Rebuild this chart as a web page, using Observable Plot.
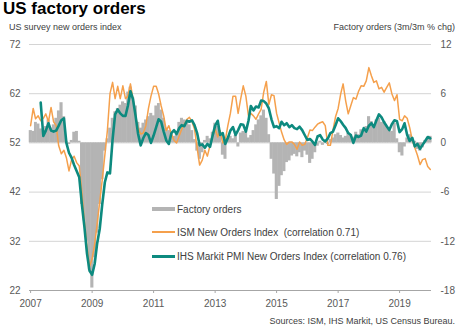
<!DOCTYPE html>
<html><head><meta charset="utf-8">
<script src="https://cdn.jsdelivr.net/npm/d3@7"></script>
<script src="https://cdn.jsdelivr.net/npm/@observablehq/plot@0.6"></script>
<style>
body{margin:0;background:#fff;font-family:"Liberation Sans",Arial,sans-serif;}
#wrap{position:relative;width:466px;height:334px;overflow:hidden;background:#fff}
#chart{position:absolute;left:0;top:22px}
.t{position:absolute;white-space:nowrap}
.leg{position:absolute;left:152px;height:12px;display:flex;align-items:center;font-size:10px;color:#404040;white-space:nowrap}
.sw{display:inline-block;width:23px;margin-right:2px}
</style></head>
<body>
<div id="wrap">
  <div id="chart"></div>
  <div class="t" style="left:3px;top:-1px;font-size:17px;line-height:20px;font-weight:bold;color:#000">US factory orders</div>
  <div class="t" style="left:9px;top:22px;font-size:9px;line-height:11px;color:#404040">US survey new orders index</div>
  <div class="t" style="right:11px;top:22px;font-size:9px;line-height:11px;color:#404040">Factory orders (3m/3m % chg)</div>
  <div id="legend"></div>
  <div class="t" style="right:11px;top:316px;font-size:9px;line-height:11px;color:#404040">Sources: ISM, IHS Markit, US Census Bureau.</div>
</div>
<script>
// Monthly data, Jan 2007 .. Jan 2020
const ism = [
55.5, 59, 56.9, 57.5, 56.5, 57, 57.9, 56.3, 59.2, 56.3,
55.5, 51.4, 49.8, 50.5, 49, 46.3, 48.5, 49.3, 48, 47.3,
42, 36, 31, 26.8, 28.5, 31.5, 35.5, 40, 44.5, 49.5,
54.5, 62, 64.3, 61, 63.5, 61, 63.6, 61, 61.5, 64,
61, 57.5, 55, 53.8, 54, 55.5, 59, 61.5, 63.5, 63.5,
62, 59.5, 57.5, 54.5, 55.5, 53.8, 52.5, 52, 53.4, 54.8,
55.8, 56.8, 57.2, 56.3, 54.8, 51, 47.5, 48.5, 50.5, 49.3,
51.5, 53.2, 54.8, 53.2, 54.5, 52, 52.5, 55.5, 58, 61.5,
61.5, 58, 61, 63.6, 61.5, 57.5, 58, 57.5, 56.8, 57.9,
58.8, 62.3, 64.5, 59.8, 61.8, 61.6, 58, 56, 54.2, 52.6,
51.7, 52.2, 52.2, 51.7, 50.7, 52.2, 51.5, 51.7, 53, 54.6,
54.5, 55.2, 55.8, 56.1, 56.3, 55.5, 51.5, 51.5, 54.6, 57.3,
59, 62, 64, 60.5, 57.9, 59.6, 61.2, 60.9, 62.5, 63.6,
63.5, 64.6, 67.3, 65.6, 64.3, 64.6, 63, 63.3, 62.3, 63.3,
64.2, 62, 60.6, 61.8, 56.8, 56.5, 57.5, 57, 55.1, 52.5,
51, 49.5, 47.6, 48.6, 48.8, 47.2, 46.6
];
const pmi = [
null, null, null, null, 60.2, 53.4, 54.5, 56, 54.5, 54.3,
54.5, 55.5, 56.6, 57, 52, 50, 49, 47.5, 46.3, 45,
39.5, 35, 29.5, 26, 25.2, 27.5, 31.5, 34.5, 39.5, 44,
46, 45.8, 52.7, 57.8, 58.8, 58, 57.5, 57.5, 59.5, 62.5,
60.9, 57.5, 53.8, 51.5, 53, 54, 53.6, 52, 53.5, 55.2,
56.8, 56.3, 54.3, 52.5, 51.8, 54, 54.6, 53.8, 55, 55.6,
55.4, 56.5, 56.3, 56.6, 55.6, 54, 51.5, 51.7, 51, 51.8,
51.2, 53.4, 55.5, 56.5, 53.6, 54, 51.8, 53, 54.5, 55.2,
53.6, 54.6, 55.8, 55.7, 54.3, 56.5, 59.5, 58.6, 59.4, 59.2,
60.6, 60.5, 60, 59, 56.8, 55.2, 55.4, 55, 56.3, 55.6,
56, 55.2, 55.6, 55, 54.8, 55.3, 54.6, 53.6, 52.6, 52.8,
52.3, 51.6, 53.3, 53.6, 52.7, 52.3, 52.9, 54, 54.3, 55.6,
57, 56.4, 55.7, 55, 54, 53.6, 52, 53.5, 53.2, 53.5,
55, 54.3, 55.5, 56, 55.2, 56.6, 57.8, 57.2, 56.2, 55.4,
54.6, 55.8, 56.6, 56.4, 54.2, 54.8, 56, 53.6, 52.4, 53,
51.3, 51.8, 50.8, 51.6, 52.4, 53.2, 52.9
];
const factoryOrders = [
1.5, 1.4, 2.5, 2.3, 1.7, 1.5, 2.0, 2.8, 1.8, 2.2,
3.0, 3.9, 4.9, 3.2, 0.2, -0.2, 0.3, 1.3, 1.4, 0.2,
-7.5, -9.5, -12, -15.5, -17.7, -14, -11, -7.5, -4.5, -1,
0.5, 1.8, 3.0, 3.8, 4.2, 4.6, 5.0, 4.8, 6.2, 6.8,
5.5, 4.5, 2.5, 1.8, 2.4, 2.8, 3.2, 3.6, 3.3, 4.5,
4.8, 4.0, 3.0, 1.8, 1.5, 1.0, 0.8, 1.2, 2.5, 3.0,
2.8, 2.6, 2.2, 1.5, 0.4, -1.0, -2.0, -1.2, 0.3, 0.8,
0.5, 1.3, 2.4, 2.0, 1.0, -1.5, -2.0, 0.6, 0.8, 0.5,
0.9, -0.5, 1.2, 1.4, 1.3, 0.6, 0.9, 1.5, 2.2, 2.8,
3.3, 4.0, 3.0, 1.0, -2.0, -3.8, -6.9, -5.3, -4.0, -3.5,
-2.4, -2.2, -1.6, -1.4, -1.7, -1.2, -1.8, -1.0, -1.5, -2.5,
-2.0, -1.2, -0.4, 0.2, -0.3, 0.3, -0.2, 0.4, 0.6, 1.0,
1.2, 0.9, 0.6, 0.8, 1.2, 1.0, 0.7, 1.3, 1.0, 1.6,
1.4, 2.0, 3.2, 2.6, 2.2, 2.8, 3.0, 2.5, 2.6, 2.0,
1.8, 1.4, 2.4, 0.5, -1.2, -1.6, -0.5, 0.6, 1.0, 0.4,
0.2, -0.8, -1.0, -0.6, 0.3, 0.6, 0.8
];
const leftTicks = [22, 32, 42, 52, 62, 72];
const rightTicks = [-18, -12, -6, 0, 6, 12];
const yearTicks = [2007, 2009, 2011, 2013, 2015, 2017, 2019];
const legendLabels = ["Factory orders", "ISM New Orders Index  (correlation 0.71)", "IHS Markit PMI New Orders Index (correlation 0.76)"];

const colors = {bars: "#b4b4b4", ism: "#f5a04c", pmi: "#0d8a7f"};
// right axis: 0% aligned with 52, 30 pct-pts span = 50 index pts
const toLeft = r => 52 + r / 0.6;
const toRight = l => Math.round((l - 52) * 0.6);

const rows = ism.map((v, i) => ({
  date: new Date(Date.UTC(2007, i, 1)),
  x1: new Date(Date.UTC(2007, i - 1, 16)),
  x2: new Date(Date.UTC(2007, i, 22)),
  ism: v, pmi: pmi[i], fo: factoryOrders[i]
}));

const chart = Plot.plot({
  width: 466, height: 290,
  marginTop: 22, marginBottom: 22, marginLeft: 29, marginRight: 35,
  style: {fontFamily: '"Liberation Sans", Arial, sans-serif', fontSize: "10px", color: "#595959", background: "transparent"},
  x: {type: "utc", domain: [new Date(Date.UTC(2006, 11, 19)), new Date(Date.UTC(2020, 0, 15))]},
  y: {domain: [22, 72]},
  marks: [
    Plot.ruleY(leftTicks.filter(d => d !== 22), {stroke: "#d4d4d4", strokeWidth: 1}),
    Plot.rect(rows, {x1: "x1", x2: "x2", y1: 52, y2: d => toLeft(d.fo), fill: colors.bars}),
    Plot.line(rows, {x: "date", y: "ism", stroke: colors.ism, strokeWidth: 1.5}),
    Plot.line(rows, {x: "date", y: "pmi", stroke: colors.pmi, strokeWidth: 2.6}),
    Plot.ruleY([22], {stroke: "#a6a6a6"}),
    Plot.axisY(leftTicks, {anchor: "left", tickSize: 0, tickPadding: 9, label: null}),
    Plot.axisY(rightTicks.map(toLeft), {anchor: "right", tickSize: 0, tickPadding: 9, label: null, tickFormat: d => String(toRight(d))}),
    Plot.axisX(yearTicks.map(y => new Date(Date.UTC(y, 0, 1))), {anchor: "bottom", tickSize: 3, tickPadding: 6, stroke: "#a6a6a6", label: null, tickFormat: d3.utcFormat("%Y")})
  ]
});
document.getElementById("chart").appendChild(chart);

const legendStyles = [
  {color: colors.bars, h: 4, top: 203},
  {color: colors.ism, h: 2, top: 226},
  {color: colors.pmi, h: 3, top: 250}
];
const leg = document.getElementById("legend");
legendLabels.forEach((lab, i) => {
  const s = legendStyles[i];
  const row = document.createElement("div");
  row.className = "leg";
  row.style.top = s.top + "px";
  const sw = document.createElement("span");
  sw.className = "sw";
  sw.style.height = s.h + "px";
  sw.style.background = s.color;
  row.appendChild(sw);
  const tx = document.createElement("span");
  tx.textContent = lab;
  tx.style.whiteSpace = "pre";
  row.appendChild(tx);
  leg.appendChild(row);
});
</script>
</body></html>
